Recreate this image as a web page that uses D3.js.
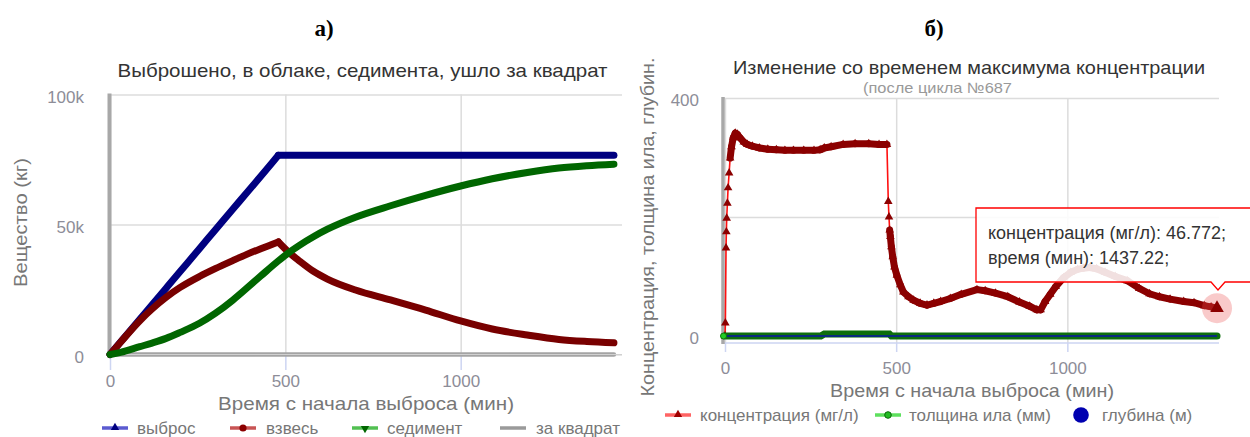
<!DOCTYPE html>
<html><head><meta charset="utf-8">
<script src="https://cdn.jsdelivr.net/npm/d3@7"></script>
<style>
body{margin:0;background:#fff}
svg{display:block}
text{font-family:"Liberation Sans",Arial,sans-serif}
</style>
</head><body>
<svg id="c" width="1250" height="437"></svg>
<script>
// ---------- DATA ----------
const panelLabels = ["а)", "б)"];
const leftTitle = "Выброшено, в облаке, седимента, ушло за квадрат";
const rightTitle = "Изменение со временем максимума концентрации";
const rightSubtitle = "(после цикла №687";
const xTitle = "Время с начала выброса (мин)";
const leftYTitle = "Вещество (кг)";
const rightYTitle = "Концентрация, толщина ила, глубин.";

const leftYTicks = [0, 50000, 100000];
const leftYTickLabels = ["0", "50k", "100k"];
const xTicks = [0, 500, 1000];
const xTickLabels = ["0", "500", "1000"];
const rightYTicks = [0, 200, 400];
const rightYTickLabels = ["0", "", "400"];

const leftSeriesNames = ["выброс", "взвесь", "седимент", "за квадрат"];
const timeA = [0,30,85,120,160,200,255,300,350,390,430,480,510,540,580,620,700,800,900,1000,1090,1190,1280,1360,1437];
const vybros = [0,4800,13600,19100,25500,31900,40700,47900,55900,62200,68600,76600,76600,76600,76600,76600,76600,76600,76600,76600,76600,76600,76600,76600,76600];
const vzves = [0,4700,13000,17500,22000,25800,30000,33000,36100,38500,40700,43300,39300,36000,32000,29000,24800,21000,17100,12900,9800,7500,5800,5000,4500];
const sediment = [0,800,3000,4400,6200,8500,12000,15800,20900,25500,30200,36000,39200,42000,45300,48200,52800,57200,61200,64800,67600,70000,71700,72600,73200];
const zaKvadrat = [0,0,0,0,0,0,0,0,0,0,0,0,0,0,0,0,0,0,0,0,0,0,0,0,0];

const rightSeriesNames = ["концентрация (мг/л)", "толщина ила (мм)", "глубина (м)"];
const concT = [0,1,3,4,5,7,9,12,15,19,24,30,36,44,55,65,80,100,125,150,175,200,230,260,278,290,310,345,380,420,450,473,
  477,479,481,483,486,490,495,502,512,521,536,551,570,590,610,630,658,690,736,760,790,826,860,890,911,922,935,950,966,989,
  1010,1030,1047,1065,1085,1110,1140,1175,1210,1240,1269,1300,1340,1370,1400,1420,1437.22];
const concV = [0,22,148,175,198,223,249,274,299,318,333,341,339,333,326,322,319,316,314,313,312,312,312,312,313,316,318,322,323,323,322,322,
  226,200,178,167,150,133,116,102,86,74,66,60,55,52,55,58,63,70,78,76,72,66,57,50,44,44,58,70,83,98,
  107,112,114,115,113,107,100,93,80,71,66,62,58,56,51,49,46.772];
const silT = [0,280,290,480,486,1437.22];
const silV = [0,0,3.5,3.5,0,0];
const depthT = [0,1437.22];
const depthV = [0,0];
const tooltipNames = ["концентрация (мг/л)", "время (мин)"];

// ---------- DRAW ----------
const svg = d3.select("#c");
const TXT = "#333", AX = "#777", TICK = "#8d8d98";

function label(x, y, s, o = {}) {
  const t = svg.append("text").attr("x", x).attr("y", y).text(s)
    .attr("font-size", o.size || 17).attr("fill", o.fill || AX)
    .attr("text-anchor", o.anchor || "middle").attr("dominant-baseline", "central");
  if (o.len) t.attr("textLength", o.len).attr("lengthAdjust", "spacingAndGlyphs");
  if (o.rot) t.attr("transform", `rotate(-90 ${x} ${y})`);
  if (o.weight) t.attr("font-weight", o.weight);
  if (o.family) t.style("font-family", o.family);
  return t;
}

// panel labels
label(324, 28, panelLabels[0], {size: 23, fill: "#000", weight: "bold", family: '"Liberation Serif","Times New Roman",serif'});
label(934, 28, panelLabels[1], {size: 23, fill: "#000", weight: "bold", family: '"Liberation Serif","Times New Roman",serif'});

// ===== LEFT CHART =====
const xL = d3.scaleLinear().domain([0, 1460]).range([110, 622]);
const yL = d3.scaleLinear().domain([0, 100000]).range([354.5, 94.5]);

const gyL = svg.append("g").attr("transform", "translate(110,0)")
  .call(d3.axisLeft(yL).tickValues(leftYTicks).tickFormat((d, i) => leftYTickLabels[i]).tickSize(-512).tickPadding(26));
gyL.select(".domain").remove();
gyL.selectAll("line").attr("stroke", "#dcdcdc").attr("stroke-width", 1.5);
gyL.selectAll("text").attr("font-size", 17).attr("fill", TICK).attr("dy", "0.35em").attr("y", 2.5)
  .style("font-family", '"Liberation Sans",Arial,sans-serif');

const gxL = svg.append("g").attr("transform", "translate(0,354.5)")
  .call(d3.axisBottom(xL).tickValues(xTicks).tickFormat((d, i) => xTickLabels[i]).tickSize(-260));
gxL.select(".domain").remove();
gxL.selectAll("line").attr("stroke", "#dcdcdc").attr("stroke-width", 1.5);
gxL.selectAll("text").attr("font-size", 17).attr("fill", TICK).attr("y", 27).attr("dy", "0.35em")
  .style("font-family", '"Liberation Sans",Arial,sans-serif');
const gxL2 = svg.append("g").attr("transform", "translate(0,356)")
  .call(d3.axisBottom(xL).tickValues(xTicks).tickSize(14).tickFormat(""));
gxL2.select(".domain").remove();
gxL2.selectAll("line").attr("stroke", "#cdd5f2").attr("stroke-width", 1.5);

// left axis line
svg.append("line").attr("x1", 109.5).attr("x2", 109.5).attr("y1", yL(100000) - 1).attr("y2", 357)
  .attr("stroke", "#a8a8a8").attr("stroke-width", 4);

function drawL(arr, color, w) {
  const pts = arr.map((v, i) => [xL(timeA[i]), yL(v)]);
  const mx = d3.max(arr), k = arr.indexOf(mx);
  const parts = (k > 0 && k < arr.length - 1) ? [pts.slice(0, k + 1), pts.slice(k)] : [pts];
  const gen = d3.line().curve(d3.curveMonotoneX);
  parts.forEach(p => svg.append("path").attr("d", gen(p)).attr("fill", "none").attr("stroke", color)
    .attr("stroke-width", w).attr("stroke-linejoin", "round").attr("stroke-linecap", "round"));
}
drawL(zaKvadrat, "#a4a4a4", 4.5);
svg.append("line").attr("x1", 108).attr("x2", 622).attr("y1", 354.5).attr("y2", 354.5).attr("stroke", "#d0d0d0").attr("stroke-width", 1.2);
drawL(vybros, "#000080", 7);
drawL(vzves, "#780000", 7);
drawL(sediment, "#006600", 7);

label(362.5, 70.5, leftTitle, {size: 19, fill: TXT, len: 490});
label(20, 222.5, leftYTitle, {size: 19, fill: AX, rot: true, len: 129});
label(366, 403, xTitle, {size: 19, fill: AX, len: 296});

// legends
function legendItems(items, names, y) {
  items.forEach((it, i) => {
    if (it.line) svg.append("line").attr("x1", it.x).attr("x2", it.x + 26).attr("y1", y).attr("y2", y)
      .attr("stroke", it.line).attr("stroke-width", 3.5);
    const cx = it.x + 13;
    if (it.mk === "tri") svg.append("path").attr("d", d3.symbol(d3.symbolTriangle, 30)()).attr("transform", `translate(${cx},${y - 0.5})`).attr("fill", it.mc);
    if (it.mk === "dtri") svg.append("path").attr("d", d3.symbol(d3.symbolTriangle, 30)()).attr("transform", `translate(${cx},${y + 0.5}) rotate(180)`).attr("fill", it.mc);
    if (it.mk === "circ") svg.append("circle").attr("cx", cx).attr("cy", y).attr("r", it.r || 3.6).attr("fill", it.mc).attr("stroke", it.ms || "none").attr("stroke-width", 1);
    if (it.mk === "big") svg.append("circle").attr("cx", cx).attr("cy", y).attr("r", 7.8).attr("fill", it.mc);
    label(it.tx, y, names[i], {size: 17, fill: AX, anchor: "start"});
  });
}
legendItems([
  {x: 102, line: "#5b5bd0", mk: "tri", mc: "#000080", tx: 137},
  {x: 230, line: "#c85454", mk: "circ", mc: "#8b0000", tx: 266},
  {x: 352, line: "#52c052", mk: "dtri", mc: "#006600", tx: 387},
  {x: 500, line: "#9a9a9a", mk: null, mc: null, tx: 536}
], leftSeriesNames, 428);

// ===== RIGHT CHART =====
const xR = d3.scaleLinear().domain([0, 1443]).range([725, 1219]);
const yR = d3.scaleLinear().domain([0, 400]).range([336, 98]);

const gyR = svg.append("g").attr("transform", "translate(723,0)")
  .call(d3.axisLeft(yR).tickValues(rightYTicks).tickFormat((d, i) => rightYTickLabels[i]).tickSize(-496).tickPadding(24));
gyR.select(".domain").remove();
gyR.selectAll("line").attr("stroke", "#dcdcdc").attr("stroke-width", 1.5);
gyR.selectAll("text").attr("font-size", 17).attr("fill", TICK).attr("dy", "0.35em").attr("y", 2)
  .style("font-family", '"Liberation Sans",Arial,sans-serif');

const gxR = svg.append("g").attr("transform", "translate(0,343)")
  .call(d3.axisBottom(xR).tickValues(xTicks).tickFormat((d, i) => xTickLabels[i]).tickSize(-245));
gxR.select(".domain").remove();
gxR.selectAll("line").attr("stroke", "#dcdcdc").attr("stroke-width", 1.5);
gxR.selectAll("text").attr("font-size", 17).attr("fill", TICK).attr("y", 25).attr("dy", "0.35em")
  .style("font-family", '"Liberation Sans",Arial,sans-serif');
const gxR2 = svg.append("g").attr("transform", "translate(0,343)")
  .call(d3.axisBottom(xR).tickValues(xTicks).tickSize(9).tickFormat(""));
gxR2.select(".domain").remove();
gxR2.selectAll("line").attr("stroke", "#cdd5f2").attr("stroke-width", 1.5);
svg.append("line").attr("x1", 723).attr("x2", 1219).attr("y1", 343).attr("y2", 343).attr("stroke", "#cdd5f2").attr("stroke-width", 1.5);
svg.append("line").attr("x1", 723).attr("x2", 723).attr("y1", 97).attr("y2", 344).attr("stroke", "#a8a8a8").attr("stroke-width", 3.5);

// concentration
const concPts = concT.map((t, i) => [xR(t), yR(concV[i])]);
svg.append("path").attr("d", d3.line()(concPts)).attr("fill", "none").attr("stroke", "#ff1010").attr("stroke-width", 1.6);
for (let i = 1; i < concPts.length; i++) {
  const a = concPts[i - 1], b = concPts[i];
  const dx = Math.abs(b[0] - a[0]), dy = Math.abs(b[1] - a[1]);
  if (dx >= 3 || Math.hypot(dx, dy) < 12) {
    svg.append("line").attr("x1", a[0]).attr("y1", a[1]).attr("x2", b[0]).attr("y2", b[1])
      .attr("stroke", "#8b0000").attr("stroke-width", 7).attr("stroke-linecap", "round");
  }
}
svg.append("g").selectAll("path").data(concPts.slice(0, -1)).join("path")
  .attr("d", d3.symbol(d3.symbolTriangle, 32)()).attr("transform", d => `translate(${d[0]},${d[1]})`).attr("fill", "#8b0000");

// silt thickness and depth
svg.append("path").attr("d", d3.line().x((d, i) => xR(silT[i])).y(d => yR(d))(silV))
  .attr("fill", "none").attr("stroke", "#0d6e0d").attr("stroke-width", 7).attr("stroke-linecap", "round");
svg.append("path").attr("d", d3.line().x((d, i) => xR(depthT[i])).y(d => yR(d))(depthV))
  .attr("fill", "none").attr("stroke", "#0a2a80").attr("stroke-width", 2.2);
svg.append("circle").attr("cx", xR(0) - 1.5).attr("cy", yR(0)).attr("r", 3).attr("fill", "#22cc22").attr("stroke", "#0a7a0a");

// highlight of last point
const last = concPts[concPts.length - 1];
svg.append("circle").attr("cx", last[0]).attr("cy", last[1]).attr("r", 15).attr("fill", "rgba(235,80,80,0.3)");
svg.append("path").attr("d", d3.symbol(d3.symbolTriangle, 80)()).attr("transform", `translate(${last[0]},${last[1]})`).attr("fill", "#8b0000");

// tooltip
svg.append("path").attr("d", "M976,208 H1290 V282 H1225 L1218,290 L1211,282 H976 Z")
  .attr("fill", "rgba(255,255,255,0.88)").attr("stroke", "#ff0000").attr("stroke-width", 1.3);
const nC = concV.length - 1;
label(988, 233, `${tooltipNames[0]}: ${concV[nC]};`, {size: 18, fill: TXT, anchor: "start"});
label(988, 258, `${tooltipNames[1]}: ${concT[nC]};`, {size: 18, fill: TXT, anchor: "start"});

label(969, 67.5, rightTitle, {size: 19, fill: TXT, len: 472});
label(937.5, 87.5, rightSubtitle, {size: 15, fill: "#999", len: 149});
label(647, 227, rightYTitle, {size: 19, fill: AX, rot: true, len: 339});
label(972, 390, xTitle, {size: 19, fill: AX, len: 284});

legendItems([
  {x: 665, line: "#ff6464", mk: "tri", mc: "#a00000", tx: 700},
  {x: 875, line: "#5ee05e", mk: "circ", mc: "#22bb22", ms: "#0a6a0a", r: 3.3, tx: 909},
  {x: 1068, line: null, mk: "big", mc: "#0000b0", tx: 1102}
], rightSeriesNames, 415);
</script>
</body></html>
